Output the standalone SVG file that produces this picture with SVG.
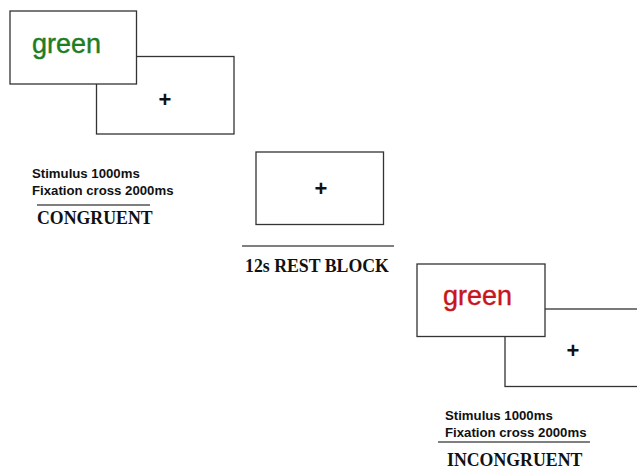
<svg xmlns="http://www.w3.org/2000/svg" width="637" height="469" viewBox="0 0 637 469">
<style>
.box{fill:#fff;stroke:#333;stroke-width:1.3}
.rule{stroke:#555;stroke-width:1.3}
.plus{font-family:"Liberation Sans",Arial,sans-serif;font-weight:bold;font-size:22px;fill:#111;text-anchor:middle}
.word{font-family:"Liberation Sans",Arial,sans-serif;font-size:27px;stroke-width:0.4}
.info{font-family:"Liberation Sans",Arial,sans-serif;font-weight:bold;font-size:13.2px;fill:#111}
.cap{font-family:"Liberation Serif","Times New Roman",serif;font-weight:bold;font-size:17.8px;fill:#111}
</style>
<rect width="637" height="469" fill="#fff"/>
<g id="congruent-fixation">
<rect class="box" x="96.5" y="56.5" width="137.5" height="77.5"/>
<text class="plus" x="165" y="107">+</text>
</g>
<g id="congruent-stimulus">
<rect class="box" x="10" y="11" width="126.5" height="73"/>
<text class="word" x="32" y="53" fill="#1e7d1e" stroke="#1e7d1e">green</text>
</g>
<g id="congruent-label">
<text class="info" x="32" y="178">Stimulus 1000ms</text>
<text class="info" x="32" y="195">Fixation cross 2000ms</text>
<line class="rule" x1="37" y1="205" x2="150" y2="205"/>
<text class="cap" x="37" y="224">CONGRUENT</text>
</g>
<g id="rest">
<rect class="box" x="256" y="152" width="127.5" height="72.5"/>
<text class="plus" x="321" y="196">+</text>
<line class="rule" x1="242" y1="246" x2="394" y2="246"/>
<text class="cap" x="245" y="272">12s REST BLOCK</text>
</g>
<g id="incongruent-fixation">
<rect class="box" x="505" y="309" width="140" height="77.5"/>
<text class="plus" x="573" y="358">+</text>
</g>
<g id="incongruent-stimulus">
<rect class="box" x="417" y="264" width="128" height="72.5"/>
<text class="word" x="443" y="305" fill="#c8141e" stroke="#c8141e">green</text>
</g>
<g id="incongruent-label">
<text class="info" x="445" y="420">Stimulus 1000ms</text>
<text class="info" x="445" y="437">Fixation cross 2000ms</text>
<line class="rule" x1="438" y1="442" x2="590" y2="442"/>
<text class="cap" x="447" y="466">INCONGRUENT</text>
</g>
<g id="connectors"></g>
</svg>
